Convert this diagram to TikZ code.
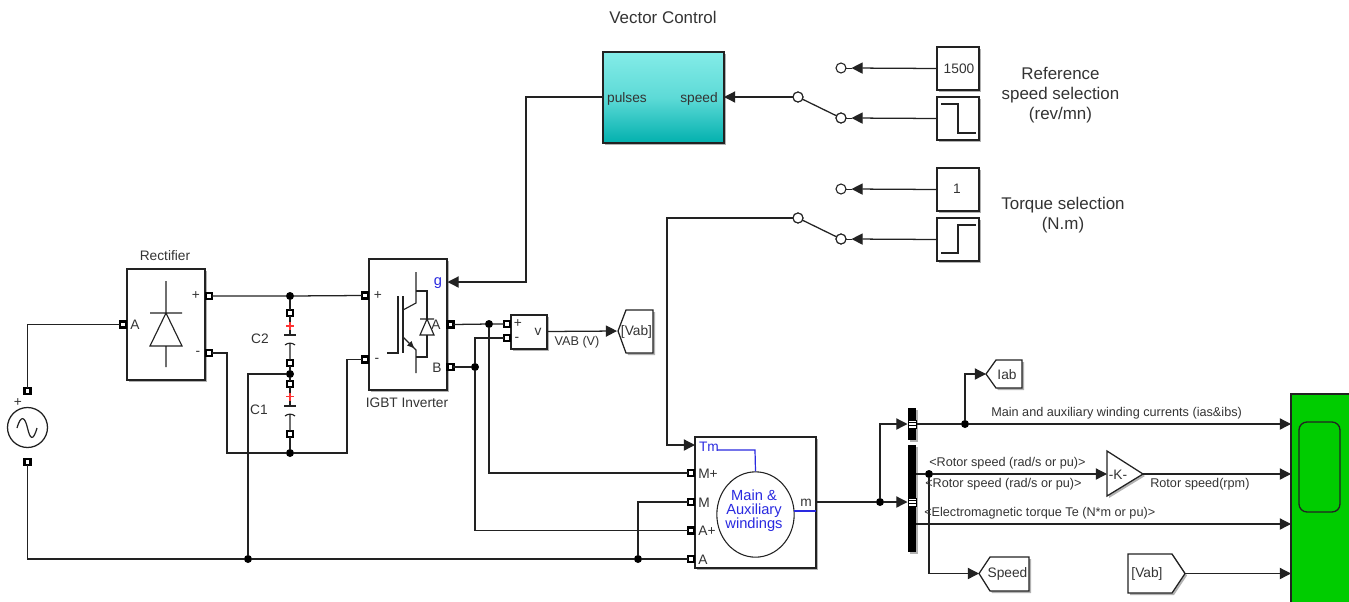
\documentclass[tikz,border=0pt]{standalone}
\usepackage{fontspec}
\setmainfont{Liberation Sans}
\usetikzlibrary{arrows.meta,fit,shadows,calc,shapes.geometric}
\definecolor{ln}{HTML}{222222}
\definecolor{tx}{HTML}{333333}
\definecolor{bl}{HTML}{2A2AE0}
\definecolor{vctop}{HTML}{84ECE8}
\definecolor{vcbot}{HTML}{02B0AE}
\tikzset{
  x=0.75pt,y=-0.75pt,
  wire/.style={draw=ln,line width=0.95pt,line join=miter},
  arr/.style={wire,-{Triangle[length=8.4pt,width=8.4pt]}},
  block/.style={draw=ln,line width=0.95pt,fill=white,inner sep=0pt,outer sep=0pt,
    drop shadow={shadow xshift=1.5pt,shadow yshift=-1.5pt,fill=black,opacity=.3}},
  port/.style={draw=black,line width=1.7pt,fill=white,inner sep=0pt,outer sep=0pt,minimum width=4.4pt,minimum height=4.4pt},
  junc/.style={circle,fill=black,inner sep=0pt,minimum size=6pt,outer sep=0pt},
  sw/.style={circle,draw=ln,line width=0.8pt,fill=white,inner sep=0pt,minimum size=7.5pt,outer sep=0pt},
  lab/.style={text=tx,inner sep=0pt,yshift=-0.5pt,font=\fontsize{10.3pt}{12pt}\selectfont,align=center},
  big/.style={text=tx,inner sep=0pt,font=\fontsize{12.7pt}{15pt}\selectfont,align=center},
  sm/.style={text=tx,inner sep=0pt,yshift=-0.5pt,font=\fontsize{9.5pt}{11pt}\selectfont},
  blu/.style={text=bl,inner sep=0pt,yshift=-0.5pt,font=\fontsize{11pt}{10.6pt}\selectfont,align=center},
  icon/.style={draw=ln,line width=0.85pt},
  bar/.style={fill=black,inner sep=0pt,outer sep=0pt,
    drop shadow={shadow xshift=1.5pt,shadow yshift=-1.5pt,fill=black,opacity=.3}},
  seltab/.style={draw=black,line width=0.3pt,fill=white,inner sep=0pt,minimum width=5.6pt,minimum height=2.4pt,outer sep=0pt},
}
\begin{document}
\begin{tikzpicture}
\useasboundingbox (0,0) rectangle (1349,601);
% ---------- blocks
\node[block,fit={(127,269)(205,380)}] (rect) {};
\node[block,fit={(369,259)(447,390)}] (igbt) {};
\node[block,fit={(511,315)(547,349)}] (vm) {};
\node[block,fit={(695,437)(816,568)}] (motor) {};
\node[block,fit={(603,52)(724,143)},top color=vctop,bottom color=vcbot,middle color=vctop!70!vcbot] (vc) {};
\node[block,fit={(937,47)(979,90)}] (c1500) {};
\node[block,fit={(937,97)(979,140)}] (stepa) {};
\node[block,fit={(937,168)(979,211)}] (cone) {};
\node[block,fit={(937,218)(979,261)}] (stepb) {};
\node[bar,fit={(908,408)(916,440)}] (demuxa) {};
\node[bar,fit={(908,445)(916,552)}] (demuxb) {};
% scope
\node[draw=ln,line width=0.95pt,fill={rgb,255:red,0;green,204;blue,0},inner sep=0pt,outer sep=0pt,fit={(1291,394)(1352,604)}] (scope) {};
\draw[draw=ln,line width=1pt,rounded corners=6pt] (1299,422) rectangle (1340,512);
% goto / from shapes
\draw[block] (618,331) -- (626,310) -- (653,310) -- (653,353) -- (626,353) -- cycle;
\draw[block] (986,374) -- (996,360) -- (1022,360) -- (1022,388) -- (996,388) -- cycle;
\draw[block] (979,573.5) -- (990,557) -- (1029,557) -- (1029,591) -- (990,591) -- cycle;
\draw[block] (1128,554) -- (1172,554) -- (1185,573.5) -- (1172,593) -- (1128,593) -- cycle;
\draw[block] (1107,451) -- (1143,474) -- (1107,496) -- cycle;
% coordinates on shapes
\coordinate (gotovab) at (617,331);
\coordinate (gotoiab) at (986,374);
\coordinate (gotospeed) at (979,573.5);
\coordinate (fromvab) at (1185,573.5);
\coordinate (gainin) at (1107,474);
\coordinate (gainout) at (1143,474);
% AC source
\node[circle,draw=ln,line width=0.95pt,fill=white,minimum size=30pt,inner sep=0pt,outer sep=0pt] (ac) at (27.5,427.5) {};
\draw[icon,line width=0.9pt] (17,428) .. controls (21,414) and (25,417) .. (27.5,428) .. controls (30,439) and (33,442) .. (37,428);
% ports
\node[port] (acp) at (27.5,391) {};
\node[port] (acn) at (27.5,462) {};
\node[port] (ra) at (123,324.5) {};
\node[port] (rp) at (209,296) {};
\node[port] (rn) at (209,353) {};
\node[port] (ip) at (365,295.5) {};
\node[port] (in) at (365,359.5) {};
\node[port] (ia) at (450.5,324.5) {};
\node[port] (ib) at (450.5,367) {};
\node[port] (vp) at (507,324) {};
\node[port] (vn) at (507,338) {};
\node[port] (mmp) at (691,473) {};
\node[port] (mm) at (691,502) {};
\node[port] (map) at (691,530.5) {};
\node[port] (ma) at (691,559) {};
\node[port] (c2t) at (290,313) {};
\node[port] (c2b) at (290,363) {};
\node[port] (c1t) at (290,384) {};
\node[port] (c1b) at (290,434) {};
% junctions
\node[junc] (jt) at (290,296) {};
\node[junc] (jm) at (290,374) {};
\node[junc] (jb) at (290,453) {};
\node[junc] (jg1) at (248,559) {};
\node[junc] (jg2) at (638,559) {};
\node[junc] (ja) at (489,324) {};
\node[junc] (jbb) at (475,367) {};
\node[junc] (jm1) at (880,502) {};
\node[junc] (jd) at (965,424) {};
\node[junc] (js) at (929,474) {};
% switches
\node[sw] (s1c) at (798,97) {};
\node[sw] (s1t) at (841,68) {};
\node[sw] (s1b) at (841,118) {};
\node[sw] (s2c) at (798,218) {};
\node[sw] (s2t) at (841,189) {};
\node[sw] (s2b) at (841,239) {};
% coordinates
\coordinate (vcg) at (603,97);
\coordinate (vcs) at (724,97);
\coordinate (ig) at (447.5,282);
\coordinate (mtm) at (695,445);
\coordinate (mout) at (816,502);
\coordinate (vmo) at (547,331.5);
\coordinate (dain) at (907.5,424);
\coordinate (dbin) at (907.5,502);
\coordinate (daout) at (916,424);
\coordinate (dbo1) at (916,474);
\coordinate (dbo2) at (916,524);
\coordinate (sc1) at (1291,424);
\coordinate (sc2) at (1291,474);
\coordinate (sc3) at (1291,524);
\coordinate (sc4) at (1291,573.5);
\coordinate (s1tt) at (851.5,68);
\coordinate (s1bt) at (851.5,118);
\coordinate (s2tt) at (851.5,189);
\coordinate (s2bt) at (851.5,239);
% ---------- wires
\draw[wire] (acp.north) |- (ra.west);
\draw[wire] (rp.east) -- (jt) -- (ip.west);
\draw[wire] (rn.east) -| (227,453) -- (jb) -| (347,453) |- (in.west);
\draw[wire] (jt) -- (c2t.north);
\draw[wire] (c2b.south) -- (jm) -- (c1t.north);
\draw[wire] (c1b.south) -- (jb);
\draw[wire] (jm) -| (jg1);
\draw[wire] (acn.south) |- (jg1) -- (jg2) -- (ma.west);
\draw[wire] (jg2) |- (mm.west);
\draw[wire] (ia.east) -- (ja) -- (vp.west);
\draw[wire] (ja) |- (mmp.west);
\draw[wire] (ib.east) -- (jbb);
\draw[wire] (vn.west) -| (jbb);
\draw[wire] (jbb) |- (map.west);
\draw[arr] (vmo) -- (gotovab);
\draw[arr] (vcg) -- (526,97) |- (ig);
\draw[arr] (s1c.west) -- (vcs);
\draw[wire] (s1c) -- (s1b);
\draw[wire] (s2c) -- (s2b);
\draw[arr] (c1500.west) -- (s1tt);
\draw[arr] (stepa.west) -- (s1bt);
\draw[arr] (cone.west) -- (s2tt);
\draw[arr] (stepb.west) -- (s2bt);
\draw[wire,line width=0.6pt] (s1t.east) -- (s1tt);
\draw[wire,line width=0.6pt] (s1b.east) -- (s1bt);
\draw[wire,line width=0.6pt] (s2t.east) -- (s2tt);
\draw[wire,line width=0.6pt] (s2b.east) -- (s2bt);
\draw[arr] (s2c.west) -- (667,218) |- (mtm);
\draw[arr] (mout) -- (jm1) -- (dbin);
\draw[arr] (jm1) |- (dain);
\draw[arr] (daout) -- (jd) -- (sc1);
\draw[arr] (jd) |- (gotoiab);
\draw[arr] (dbo1) -- (js) -- (gainin);
\draw[arr] (gainout) -- (sc2);
\draw[arr] (js) |- (gotospeed);
\draw[arr] (dbo2) -- (sc3);
\draw[arr] (fromvab) -- (sc4);
% redraw switch circles over lever ends
\node[sw] (s1cb) at (798,97) {};
\node[sw] (s1bb) at (841,118) {};
\node[sw] (s2cb) at (798,218) {};
\node[sw] (s2bb) at (841,239) {};
% selector marks on demux
\node[seltab] (ma1) at (912,421.3) {};
\node[seltab] (ma2) at (912,424) {};
\node[seltab] (ma3) at (912,426.7) {};
\node[seltab] (mb1) at (912,499.3) {};
\node[seltab] (mb2) at (912,502) {};
\node[seltab] (mb3) at (912,504.7) {};
% ---------- icons
\draw[icon] (166,281) -- (166,313) (150,313) -- (182,313) (166,313) -- (150,346) -- (182,346) -- cycle (166,346) -- (166,367);
\draw[icon] (387,353) -- (398,353) -- (398,296) (403,296) -- (403,353);
\draw[icon] (416,272) -- (416,303) -- (403,310);
\draw[icon,-{Triangle[length=5pt,width=4.5pt]}] (403,337) -- (414,348);
\draw[icon] (410,344) -- (416,350) -- (416,373);
\draw[icon] (416,291) -- (427,291) -- (427,319) (427,335) -- (427,357) -- (416,357);
\draw[icon] (420,319) -- (434,319) (427,319) -- (420,335) -- (434,335) -- cycle;
% capacitors
\draw[icon] (290,316) -- (290,335) (284,335) -- (296,335);
\draw[icon] (285,345) .. controls (288,342.5) and (292,342.5) .. (295,345) (290,343) -- (290,360);
\draw[icon] (290,387) -- (290,406) (284,406) -- (296,406);
\draw[icon] (285,416) .. controls (288,413.5) and (292,413.5) .. (295,416) (290,414) -- (290,431);
\draw[red!80!white,line width=0.8pt] (286,326) -- (294,326) (290,322) -- (290,330);
\draw[red!80!white,line width=0.8pt] (286,396.5) -- (294,396.5) (290,392.5) -- (290,400.5);
% steps
\draw[icon] (941,104) -- (958,104) -- (958,133) -- (976,133);
\draw[icon] (941,253) -- (958,253) -- (958,225) -- (976,225);
% motor
\node[ellipse,draw=ln,line width=0.8pt,fill=white,inner sep=0pt,minimum width=58pt,minimum height=64pt] (mc) at (755.5,514.5) {};
\draw[bl,line width=0.9pt] (717,450) -- (755,450) -- (mc.north);
\draw[bl,line width=0.9pt] (793.5,511) -- (816,511);
% ---------- text
\node[big] (tvc) at (663,17) {Vector Control};
\node[big] (tref) at (1060.5,95) {Reference\\speed selection\\(rev/mn)};
\node[big] (ttq) at (1063,215.5) {Torque selection\\(N.m)};
\node[lab] (trect) at (165,255) {Rectifier};
\node[lab] (tig) at (407,402) {IGBT Inverter};
\node[lab] (tc2) at (260,338) {C2};
\node[lab] (tc1) at (259,409) {C1};
\node[lab] (tplus) at (18,402) {+};
\node[lab] (tra) at (135,324) {A};
\node[lab] (trp) at (196,295) {+};
\node[lab] (trn) at (198,353) {-};
\node[lab] (tip) at (378,295) {+};
\node[lab] (tin) at (377,360) {-};
\node[blu] (tg) at (438,282) {g};
\node[lab] (tia) at (436,324) {A};
\node[lab] (tib) at (437,367) {B};
\node[lab] (tvp) at (518,323) {+};
\node[lab] (tvn) at (517,339) {-};
\node[lab] (tv) at (538,331) {v};
\node[sm] (tvab) at (577,342) {VAB (V)};
\node[lab] (tgv) at (636.5,331) {[Vab]};
\node[lab] (tpu) at (627,98) {pulses};
\node[lab] (tsp) at (699,98) {speed};
\node[lab] (t1500) at (959,68) {1500};
\node[lab] (t1) at (957,188) {1};
\node[blu,font=\fontsize{10.3pt}{12pt}\selectfont] (ttm) at (709,446) {Tm};
\node[lab] (tmp) at (708,473) {M+};
\node[lab] (tmm) at (704,502) {M};
\node[lab] (tap) at (707,530) {A+};
\node[lab] (tma) at (703,559) {A};
\node[lab] (tm) at (806,502) {m};
\node[blu] (tmw) at (754,510) {Main \&\\Auxiliary\\windings};
\node[lab] (tiab) at (1007,374) {Iab};
\node[lab] (tspd) at (1007.5,573) {Speed};
\node[lab] (tfv) at (1147,573) {[Vab]};
\node[lab] (tk) at (1118,474) {-K-};
\node[sm,anchor=west] (tl1) at (991,413) {Main and auxiliary winding currents (ias\&ibs)};
\node[sm,anchor=west] (tl2) at (929,463) {<Rotor speed (rad/s or pu)>};
\node[sm,anchor=west] (tl3) at (925,484) {<Rotor speed (rad/s or pu)>};
\node[sm,anchor=west] (tl4) at (924,513) {<Electromagnetic torque Te (N*m or pu)>};
\node[sm,anchor=west] (tl5) at (1150,484) {Rotor speed(rpm)};
\end{tikzpicture}
\end{document}
